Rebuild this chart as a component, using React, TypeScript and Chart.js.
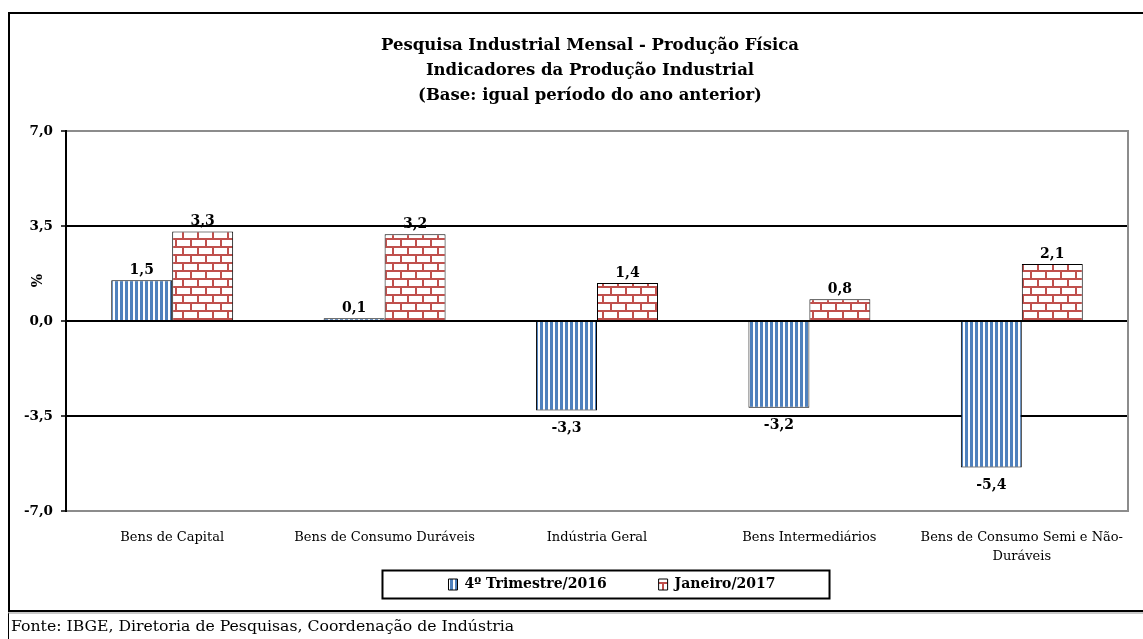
import React, { useEffect, useRef } from "react";
import { Chart, registerables } from "chart.js";

Chart.register(...registerables);

const categories: (string | string[])[] = [
  "Bens de Capital",
  "Bens de Consumo Duráveis",
  "Indústria Geral",
  "Bens Intermediários",
  ["Bens de Consumo Semi e Não-", "Duráveis"],
];
const trimestre2016 = [1.5, 0.1, -3.3, -3.2, -5.4];
const janeiro2017 = [3.3, 3.2, 1.4, 0.8, 2.1];
const yTickValues = [-7, -3.5, 0, 3.5, 7];
const seriesNames = ["4º Trimestre/2016", "Janeiro/2017"];
const titleLines = [
  "Pesquisa Industrial Mensal - Produção Física",
  "Indicadores da Produção Industrial",
  "(Base: igual período do ano anterior)",
];
const footerText = "Fonte: IBGE, Diretoria de Pesquisas, Coordenação de Indústria";

const FONT = "'DejaVu Serif', serif";

if (typeof document !== "undefined") {
  document.documentElement.style.overflow = "hidden";
}

function fmt(v: number) {
  return v.toFixed(1).replace(".", ",");
}

function stripePattern(): CanvasPattern | string {
  const c = document.createElement("canvas");
  c.width = 5;
  c.height = 4;
  const g = c.getContext("2d")!;
  g.fillStyle = "#ffffff";
  g.fillRect(0, 0, 5, 4);
  g.fillStyle = "#4f81bd";
  g.fillRect(0, 0, 3, 4);
  return g.createPattern(c, "repeat") || "#4f81bd";
}

function brickPattern(): CanvasPattern | string {
  const c = document.createElement("canvas");
  c.width = 15;
  c.height = 16;
  const g = c.getContext("2d")!;
  g.fillStyle = "#ffffff";
  g.fillRect(0, 0, 15, 16);
  g.fillStyle = "#c0504d";
  g.fillRect(0, 0, 15, 2);
  g.fillRect(0, 8, 15, 2);
  g.fillRect(0, 0, 2, 8);
  g.fillRect(7, 8, 2, 8);
  return g.createPattern(c, "repeat") || "#c0504d";
}

const labelPlugin = {
  id: "valueLabels",
  afterDatasetsDraw(chart: any) {
    const ctx = chart.ctx;
    ctx.save();
    ctx.font = `bold 14px ${FONT}`;
    ctx.fillStyle = "#000";
    ctx.textAlign = "center";
    chart.data.datasets.forEach((ds: any, i: number) => {
      const meta = chart.getDatasetMeta(i);
      meta.data.forEach((el: any, j: number) => {
        const v = ds.data[j];
        if (v >= 0) {
          ctx.textBaseline = "bottom";
          ctx.fillText(fmt(v), el.x, el.y - 3);
        } else {
          ctx.textBaseline = "top";
          ctx.fillText(fmt(v), el.x, el.y + 11);
        }
      });
    });
    ctx.restore();
  },
};

const shiftPlugin = {
  id: "boxShift",
  afterLayout(chart: any) {
    const lg = chart.legend;
    if (lg) {
      lg.left += 15;
      lg.right += 15;
    }
    const tb = chart.titleBlock;
    if (tb) {
      tb.left -= 7;
      tb.right -= 7;
    }
  },
};

const framePlugin = {
  id: "frameDecor",
  afterDraw(chart: any) {
    const ctx = chart.ctx;
    const a = chart.chartArea;
    ctx.save();
    ctx.strokeStyle = "#8c8c8c";
    ctx.lineWidth = 2;
    ctx.beginPath();
    ctx.moveTo(a.right, a.top - 1);
    ctx.lineTo(a.right, a.bottom + 1);
    ctx.stroke();
    ctx.fillStyle = "#000";
    ctx.font = `bold 14px ${FONT}`;
    ctx.textAlign = "center";
    ctx.textBaseline = "middle";
    ctx.translate(28, a.top + (a.bottom - a.top) * 0.394);
    ctx.rotate(-Math.PI / 2);
    ctx.fillText("%", 0, 0);
    ctx.restore();
    const lg = chart.legend;
    if (lg && lg.legendHitBoxes && lg.legendHitBoxes.length) {
      const hb = lg.legendHitBoxes;
      const first = hb[0];
      const last = hb[hb.length - 1];
      const cy = first.top + first.height / 2;
      const left = first.left - 66;
      const right = last.left + last.width + 54;
      ctx.save();
      ctx.strokeStyle = "#000";
      ctx.lineWidth = 2;
      ctx.strokeRect(left, cy - 14, right - left, 28);
      ctx.restore();
    }
  },
};

export default function App() {
  const ref = useRef<HTMLCanvasElement | null>(null);

  useEffect(() => {
    const canvas = ref.current!;
    const blue = stripePattern();
    const red = brickPattern();
    const chart = new Chart(canvas, {
      type: "bar",
      data: {
        labels: categories,
        datasets: [
          {
            label: seriesNames[0],
            data: trimestre2016,
            backgroundColor: blue as any,
            borderColor: "#000",
            borderWidth: 1,
            categoryPercentage: 0.574,
            barPercentage: 1,
          },
          {
            label: seriesNames[1],
            data: janeiro2017,
            backgroundColor: red as any,
            borderColor: "#000",
            borderWidth: 1,
            categoryPercentage: 0.574,
            barPercentage: 1,
          },
        ],
      },
      options: {
        animation: false,
        responsive: false,
        maintainAspectRatio: false,
        layout: { padding: { left: 0, right: 15, top: 0, bottom: 9.5 } },
        plugins: {
          title: {
            display: true,
            text: titleLines,
            fullSize: false,
            color: "#000",
            font: { family: FONT, size: 16.5, weight: "bold", lineHeight: 1.52 },
            padding: { top: 19.5, bottom: 22.26 },
          },
          legend: {
            display: true,
            position: "bottom",
            fullSize: false,
            maxHeight: 33,
            labels: {
              boxWidth: 9,
              boxHeight: 11,
              padding: 10,
              color: "#000",
              font: { family: FONT, size: 14, weight: "bold" },
              generateLabels(chart: any) {
                const items = Chart.defaults.plugins.legend.labels.generateLabels(chart);
                items.forEach((it: any, i: number) => {
                  if (i < items.length - 1) it.text = it.text + "\u2003\u2003\u2003";
                });
                return items;
              },
            },
          },
          tooltip: { enabled: false },
        },
        scales: {
          x: {
            grid: { display: false },
            border: { display: false },
            ticks: {
              color: "#000",
              font: { family: FONT, size: 13, lineHeight: 1.4 },
              padding: 10,
              maxRotation: 0,
              autoSkip: false,
            },
            afterFit(scale: any) {
              scale.height = 56.5;
            },
          },
          y: {
            min: -7,
            max: 7,
            afterBuildTicks(scale: any) {
              scale.ticks = yTickValues.map((v) => ({ value: v }));
            },
            ticks: {
              color: "#000",
              padding: 8,
              font: { family: FONT, size: 13.5, weight: "bold" },
              callback: (v: any) => fmt(Number(v)),
            },
            grid: {
              color: (c: any) => (c.tick && Math.abs(c.tick.value) === 7 ? "#8c8c8c" : "#000"),
              lineWidth: 2,
              tickLength: 5,
              tickColor: "#000",
              tickWidth: 1.5,
            },
            border: { display: true, color: "#000", width: 2 },
            afterFit(scale: any) {
              scale.width = 56;
            },
          },
        },
      },
      plugins: [labelPlugin, shiftPlugin, framePlugin],
    });
    return () => chart.destroy();
  }, []);

  return (
    <div>
      <div
        style={{
          position: "fixed",
          left: 8,
          top: 12,
          right: 0,
          height: 596,
          borderTop: "2px solid #000",
          borderLeft: "2px solid #000",
          borderBottom: "2px solid #000",
          overflow: "hidden",
        }}
      >
        <canvas ref={ref} width={1133} height={596} style={{ display: "block" }} />
      </div>
      <div
        style={{
          position: "fixed",
          left: 8,
          top: 612,
          right: 0,
          bottom: 0,
          borderTop: "2px solid #c8c8c8",
          borderLeft: "1px solid #000",
          paddingLeft: 2,
          fontFamily: FONT,
          fontSize: 15.7,
          lineHeight: "24px",
          color: "#000",
          whiteSpace: "nowrap",
          overflow: "hidden",
        }}
      >
        {footerText}
      </div>
    </div>
  );
}
